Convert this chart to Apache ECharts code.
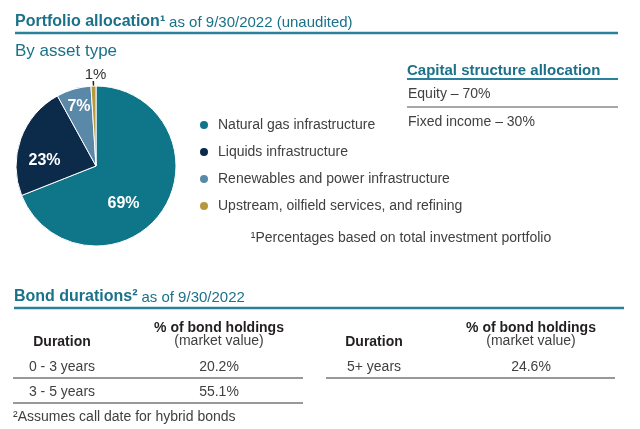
<!DOCTYPE html>
<html><head><meta charset="utf-8">
<script src="https://cdn.jsdelivr.net/npm/echarts@6/dist/echarts.min.js"></script>
<style>html,body{margin:0;padding:0;background:#fff}#c{width:640px;height:429px}</style>
</head><body><div id="c"></div>
<script>
// ---- data ----
const assetTypes = ['Natural gas infrastructure', 'Liquids infrastructure', 'Renewables and power infrastructure', 'Upstream, oilfield services, and refining'];
const assetShares = [69, 23, 7, 1];
const capitalParts = ['Equity', 'Fixed income'];
const capitalShares = [70, 30];
const bondDurationsLeft = ['0 - 3 years', '3 - 5 years'];
const bondSharesLeft = [20.2, 55.1];
const bondDurationsRight = ['5+ years'];
const bondSharesRight = [24.6];

// ---- styles ----
const sliceColors = ['#0f7589', '#0c2b4b', '#5a88a8', '#b8983c'];
const labelShift = [[-8, 13], [-11, 9], [-5, -18], [18, -6]];
const TEAL = '#1b7189', LINE = '#2b8199', TEXT = '#404040', DARK = '#231f20', GRAY = '#8a8a8a';
const FF = '"Liberation Sans", Arial, sans-serif';

function T(x, y, text, font, fill, align, extra) {
  const st = Object.assign({ text: text, font: font, fill: fill, align: align || 'left', verticalAlign: 'middle', textAlign: align || 'left', textVerticalAlign: 'middle' }, extra || {});
  return { type: 'text', x: x, y: y, silent: true, style: st };
}
function L(x1, y1, x2, y2, color, w) {
  return { type: 'line', silent: true, shape: { x1: x1, y1: y1, x2: x2, y2: y2 }, style: { stroke: color, lineWidth: w } };
}

const g = [];
// Top header
g.push(T(15, 21, '{b|Portfolio allocation¹} {n|as of 9/30/2022 (unaudited)}', '14px ' + FF, TEAL, 'left', {
  rich: { b: { font: 'bold 16px ' + FF, fill: TEAL, verticalAlign: 'bottom', lineHeight: 18 }, n: { font: '15px ' + FF, fill: TEAL, verticalAlign: 'bottom', lineHeight: 18 } }
}));
g.push(L(15, 33, 618, 33, LINE, 2.5));
g.push(T(15, 51, 'By asset type', '17px ' + FF, TEAL));

// Capital structure
g.push(T(407, 71, 'Capital structure allocation', 'bold 15px ' + FF, TEAL));
g.push(L(407, 79, 618, 79, LINE, 2));
g.push(T(408, 94, capitalParts[0] + ' – ' + capitalShares[0] + '%', '14px ' + FF, TEXT));
g.push(L(407, 107, 618, 107, GRAY, 1.5));
g.push(T(408, 122, capitalParts[1] + ' – ' + capitalShares[1] + '%', '14px ' + FF, TEXT));

// Footnote 1
g.push(T(401, 238, '¹Percentages based on total investment portfolio', '14px ' + FF, TEXT, 'center'));

// Bond durations
g.push(T(14, 296, '{b|Bond durations²} {n|as of 9/30/2022}', '14px ' + FF, TEAL, 'left', {
  rich: { b: { font: 'bold 16px ' + FF, fill: TEAL, verticalAlign: 'bottom', lineHeight: 18 }, n: { font: '15px ' + FF, fill: TEAL, verticalAlign: 'bottom', lineHeight: 18 } }
}));
g.push(L(14, 308, 624, 308, LINE, 2.5));

function table(durations, shares, cx1, cx2, lx1, lx2) {
  g.push(T(cx1, 342, 'Duration', 'bold 14px ' + FF, DARK, 'center'));
  g.push(T(cx2, 328, '% of bond holdings', 'bold 14px ' + FF, DARK, 'center'));
  g.push(T(cx2, 341, '(market value)', '14px ' + FF, TEXT, 'center'));
  durations.forEach(function (d, i) {
    g.push(T(cx1, 367 + i * 25, d, '14px ' + FF, TEXT, 'center'));
    g.push(T(cx2, 367 + i * 25, shares[i].toFixed(1) + '%', '14px ' + FF, TEXT, 'center'));
    g.push(L(lx1, 378 + i * 25, lx2, 378 + i * 25, '#777', 1.5));
  });
}
table(bondDurationsLeft, bondSharesLeft, 62, 219, 13, 303);
table(bondDurationsRight, bondSharesRight, 374, 531, 326, 615);
g.push(T(13, 417, '²Assumes call date for hybrid bonds', '14px ' + FF, TEXT));

const pieData = assetTypes.map(function (n, i) {
  const item = { name: n, value: assetShares[i], itemStyle: { color: sliceColors[i] } };
  if (assetShares[i] < 3) {
    item.label = { position: 'outside', color: '#333', fontWeight: 'normal', fontSize: 15 };
    item.labelLine = { show: true, length: 5, length2: 0, lineStyle: { color: '#222', width: 1.5 } };
  }
  return item;
});

const chart = echarts.init(document.getElementById('c'), null, { renderer: 'canvas' });
chart.setOption({
  backgroundColor: '#fff',
  animation: false,
  textStyle: { fontFamily: FF },
  legend: {
    data: assetTypes, orient: 'vertical', left: 198, top: 118, padding: 0,
    icon: 'circle', itemWidth: 16, itemHeight: 10, itemGap: 13,
    selectedMode: false,
    textStyle: { fontSize: 14, color: TEXT, lineHeight: 14, fontFamily: FF, padding: [0, 0, 0, 1] }
  },
  series: [{
    type: 'pie', center: [96, 166], radius: 80, startAngle: 90, clockwise: true,
    avoidLabelOverlap: false, silent: true,
    itemStyle: { borderColor: '#fff', borderWidth: 1 },
    label: { show: true, position: 'inside', formatter: '{c}%', color: '#fff', fontWeight: 'bold', fontSize: 16, fontFamily: FF },
    labelLine: { show: false },
    labelLayout: function (p) { const s = labelShift[p.dataIndex]; return { dx: s[0], dy: s[1] }; },
    data: pieData
  }],
  graphic: { elements: g }
});
</script></body></html>
